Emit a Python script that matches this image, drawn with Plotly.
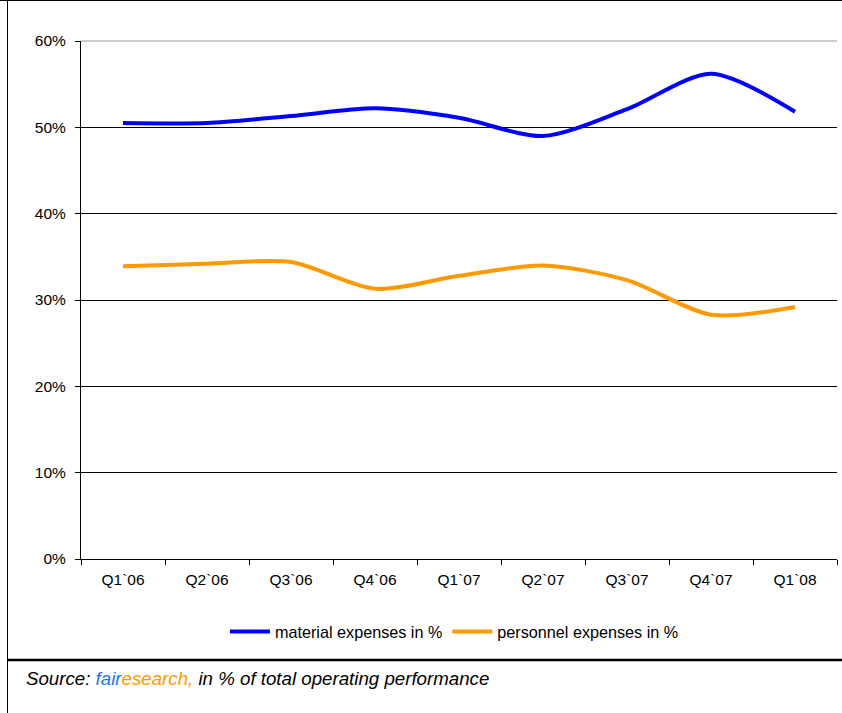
import plotly.graph_objects as go

quarters = ["Q1`06", "Q2`06", "Q3`06", "Q4`06", "Q1`07", "Q2`07", "Q3`07", "Q4`07", "Q1`08"]
material = [50.5, 50.5, 51.3, 52.2, 51.1, 49.0, 52.1, 56.2, 51.8]
personnel = [33.9, 34.2, 34.4, 31.3, 32.8, 34.0, 32.3, 28.3, 29.2]

W, H = 842, 713
L, R, T, B = 81, 837, 41, 559

def px(x):
    return (x - L) / (R - L)

def py(y):
    return (B - y) / (B - T)

fig = go.Figure()
fig.add_trace(go.Scatter(x=quarters, y=material, mode="lines", name="material expenses in %",
                         line=dict(color="#0000FF", width=4, shape="spline", smoothing=0.8)))
fig.add_trace(go.Scatter(x=quarters, y=personnel, mode="lines", name="personnel expenses in %",
                         line=dict(color="#FF9900", width=4, shape="spline", smoothing=0.8)))

fig.update_layout(
    width=W, height=H,
    margin=dict(l=L, r=W - R, t=T, b=H - B),
    paper_bgcolor="white", plot_bgcolor="white",
    font=dict(family="Liberation Sans, Arial, sans-serif", size=15, color="black"),
    showlegend=True,
    legend=dict(orientation="h", x=0.494, xanchor="center", y=py(632), yanchor="middle",
                font=dict(size=16.2), itemwidth=40, tracegroupgap=0),
    xaxis=dict(type="category", showgrid=False, showline=True, linecolor="black", linewidth=1,
               ticks="outside", tickson="boundaries", ticklen=5, tickcolor="black",
               tickfont=dict(size=15.5), range=[-0.5, 8.5], ticklabelstandoff=6),
    yaxis=dict(range=[0, 60], dtick=10, ticksuffix="%", showgrid=True, gridcolor="black", gridwidth=1,
               showline=True, linecolor="black", linewidth=1, ticks="outside", ticklen=5,
               tickcolor="black", zeroline=False, tickfont=dict(size=15.5), ticklabelstandoff=6),
    shapes=[
        dict(type="line", xref="paper", yref="paper", x0=0, x1=1, y0=1, y1=1,
             line=dict(color="#BBBBBB", width=1.5)),
        dict(type="line", xref="paper", yref="paper", x0=px(7.5), x1=px(7.5), y0=py(0), y1=py(713),
             line=dict(color="black", width=1)),
        dict(type="line", xref="paper", yref="paper", x0=px(0), x1=px(842), y0=py(0.5), y1=py(0.5),
             line=dict(color="black", width=1)),
        dict(type="line", xref="paper", yref="paper", x0=px(7), x1=px(842), y0=py(660), y1=py(660),
             line=dict(color="black", width=2.5)),
    ],
    annotations=[
        dict(xref="paper", yref="paper", x=px(24), y=py(678), xanchor="left", yanchor="middle",
             showarrow=False, font=dict(size=18.7, color="black"),
             text="<i>Source: <span style='color:#1E78E6'>fair</span><span style='color:#FF9900'>esearch,</span> in % of total operating performance</i>")
    ],
)

fig.write_html("out.html")
